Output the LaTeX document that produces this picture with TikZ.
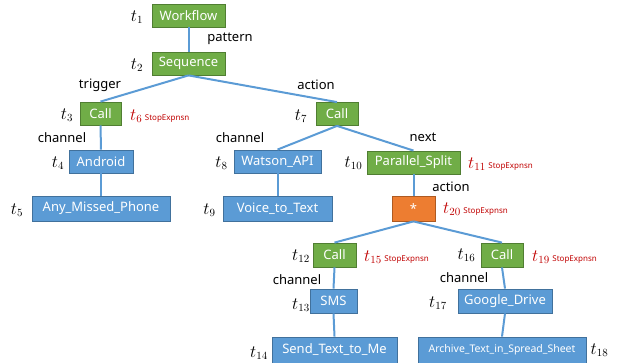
\documentclass[tikz,border=0pt]{standalone}
\usepackage{fontspec}
\setmainfont{Noto Sans}
\definecolor{G}{HTML}{70AD47}
\definecolor{Gd}{HTML}{507E32}
\definecolor{B}{HTML}{5B9BD5}
\definecolor{Bd}{HTML}{41719C}
\definecolor{O}{HTML}{ED7D31}
\definecolor{Od}{HTML}{AE5A21}
\definecolor{R}{HTML}{C00000}
\tikzset{
  box/.style={draw, line width=0.8pt, minimum height=23, inner sep=0, font=\fontsize{13}{15}\selectfont, text=white},
  gbox/.style={box, fill=G, draw=Gd},
  bbox/.style={box, fill=B, draw=Bd},
  obox/.style={box, fill=O, draw=Od},
  lbl/.style={font=\fontsize{13}{15}\selectfont, inner sep=0},
  tl/.style={font=\fontsize{16}{18}\selectfont, inner sep=0},
  stop/.style={text=R, inner sep=0, anchor=west, font=\fontsize{16}{18}\selectfont},
  conn/.style={draw=B, line width=2pt}
}
\newcommand{\stp}[1]{$t_{#1}$\,{\fontsize{8}{9}\selectfont StopExpnsn}}
\begin{document}
\begin{tikzpicture}[x=1pt,y=-1pt]
\useasboundingbox (0,0) rectangle (623,363);
% nodes
\node[gbox, minimum width=73] (wf) at (188.5,15.5) {Workflow};
\node[gbox, minimum width=73] (seq) at (188.5,63.5) {Sequence};
\node[gbox, minimum width=41] (c3) at (100.5,113.5) {Call};
\node[gbox, minimum width=42] (c7) at (337,114) {Call};
\node[bbox, minimum width=64] (and) at (101,161.5) {Android};
\node[bbox, minimum width=138, minimum height=25] (amp) at (101,208.5) {Any\_Missed\_Phone};
\node[bbox, minimum width=87] (wat) at (277.5,161.5) {Watson\_API};
\node[bbox, minimum width=109, minimum height=25] (vtt) at (277.5,208.5) {Voice\_to\_Text};
\node[gbox, minimum width=93] (ps) at (413.5,162.5) {Parallel\_Split};
\node[obox, minimum width=43, minimum height=25] (star) at (413.5,208.5) {*};
\node[gbox, minimum width=43, minimum height=24] (c12) at (334.5,255) {Call};
\node[gbox, minimum width=42, minimum height=24] (c16) at (502,255) {Call};
\node[bbox, minimum width=47, minimum height=24] (sms) at (333.5,301) {SMS};
\node[bbox, minimum width=94, minimum height=24] (gd) at (505,301) {Google\_Drive};
\node[bbox, minimum width=125, minimum height=26] (st) at (334.5,350) {Send\_Text\_to\_Me};
\node[bbox, minimum width=168, minimum height=26, font=\fontsize{10.5}{12}\selectfont] (arc) at (502,350) {Archive\_Text\_in\_Spread\_Sheet};
% connectors
\draw[conn] (wf.south) -- (seq.north);
\draw[conn] (seq.south) -- (c3.north);
\draw[conn] (seq.south) -- (c7.north);
\draw[conn] (c3.south) -- (and.north);
\draw[conn] (and.south) -- (amp.north);
\draw[conn] (c7.south) -- (wat.north);
\draw[conn] (wat.south) -- (vtt.north);
\draw[conn] (c7.south) -- (ps.north);
\draw[conn] (ps.south) -- (star.north);
\draw[conn] (star.south) -- (c12.north);
\draw[conn] (star.south) -- (c16.north);
\draw[conn] (c12.south) -- (sms.north);
\draw[conn] (sms.south) -- (st.north);
\draw[conn] (c16.south) -- (gd.north);
\draw[conn] (gd.south) -- (arc.north);
% edge labels
\node[lbl] (l1) at (230,39) {pattern};
\node[lbl] (l2) at (100,85) {trigger};
\node[lbl] (l3) at (316,85) {action};
\node[lbl] (l4) at (62,138) {channel};
\node[lbl] (l5) at (240,138) {channel};
\node[lbl] (l6) at (423,137) {next};
\node[lbl] (l7) at (451,187) {action};
\node[lbl] (l8) at (297,280) {channel};
\node[lbl] (l9) at (464,278) {channel};
% t labels
\node[tl] (t1) at (137,17) {$t_1$};
\node[tl] (t2) at (137,65) {$t_2$};
\node[tl] (t3) at (67,115) {$t_3$};
\node[tl] (t7) at (301,116) {$t_7$};
\node[tl] (t4) at (58,163) {$t_4$};
\node[tl] (t5) at (17,210) {$t_5$};
\node[tl] (t8) at (221.5,163) {$t_8$};
\node[tl] (t9) at (209.5,210) {$t_9$};
\node[tl] (t10) at (353.5,163) {$t_{10}$};
\node[tl] (t12) at (301,256) {$t_{12}$};
\node[tl] (t16) at (466.5,255) {$t_{16}$};
\node[tl] (t13) at (301,305) {$t_{13}$};
\node[tl] (t17) at (438,303) {$t_{17}$};
\node[tl] (t14) at (259,353) {$t_{14}$};
\node[tl] (t18) at (599.5,350) {$t_{18}$};
% stop labels
\node[stop] (t6) at (130,116) {\stp{6}};
\node[stop] (t11) at (468,164) {\stp{11}};
\node[stop] (t20) at (443,209) {\stp{20}};
\node[stop] (t15) at (364,257) {\stp{15}};
\node[stop] (t19) at (532,257) {\stp{19}};
\end{tikzpicture}
\end{document}
